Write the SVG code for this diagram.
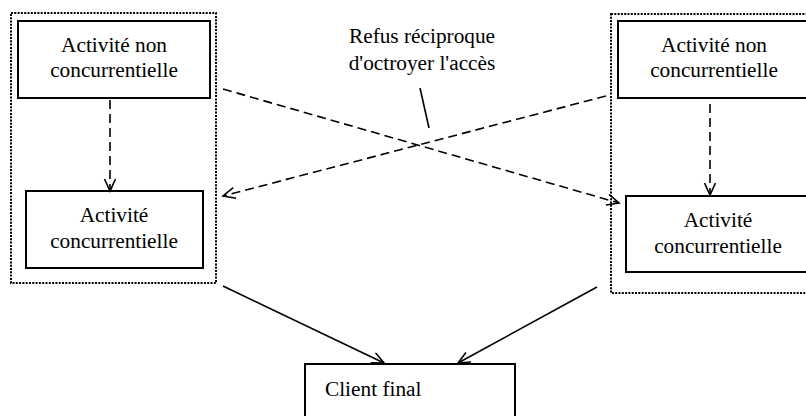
<svg xmlns="http://www.w3.org/2000/svg" width="806" height="416" viewBox="0 0 806 416">
<defs>
<style>
.box{fill:#fff;stroke:#000;stroke-width:2}
.grp{fill:none;stroke:#000;stroke-width:2;stroke-dasharray:2 1.3}
.t{font-family:"Liberation Serif","Times New Roman",serif;font-size:21.3px;fill:#000;text-anchor:middle}
.dash{fill:none;stroke:#000;stroke-width:1.6;stroke-dasharray:9 5}
.solid{fill:none;stroke:#000;stroke-width:1.6}
</style>
<marker id="ah" markerUnits="userSpaceOnUse" markerWidth="16" markerHeight="14" refX="13" refY="6" orient="auto">
<path d="M1,0.5 L13,6 L1,11.5" fill="none" stroke="#000" stroke-width="1.6"/>
</marker>
</defs>
<rect width="806" height="416" fill="#fff"/>
<g id="group-left"><rect class="grp" x="11" y="13" width="205" height="270"/></g>
<g id="group-right"><rect class="grp" x="611" y="14" width="220" height="279"/></g>
<g id="nc-left">
<rect class="box" x="18" y="21" width="192" height="77"/>
<text class="t" x="114" y="52">Activité non</text>
<text class="t" x="114" y="77">concurrentielle</text>
</g>
<g id="c-left">
<rect class="box" x="26" y="191" width="177" height="77"/>
<text class="t" x="114" y="222">Activité</text>
<text class="t" x="114" y="248">concurrentielle</text>
</g>
<g id="nc-right">
<rect class="box" x="618" y="21" width="220" height="77"/>
<text class="t" x="714" y="52">Activité non</text>
<text class="t" x="714" y="77">concurrentielle</text>
</g>
<g id="c-right">
<rect class="box" x="626" y="196" width="220" height="76"/>
<text class="t" x="718" y="227">Activité</text>
<text class="t" x="718" y="253">concurrentielle</text>
</g>
<g id="client">
<rect class="box" x="305" y="364" width="210" height="70"/>
<text class="t" x="325" y="396" style="text-anchor:start">Client final</text>
</g>
<g id="label">
<text class="t" x="422" y="43">Refus réciproque</text>
<text class="t" x="422" y="70">d'octroyer l'accès</text>
</g>
<g id="connectors">
<line class="dash" x1="110" y1="100" x2="110" y2="191" marker-end="url(#ah)"/>
<line class="dash" x1="710" y1="104" x2="710" y2="195" marker-end="url(#ah)"/>
<line class="dash" x1="223" y1="89" x2="619" y2="203" marker-end="url(#ah)"/>
<line class="dash" x1="606" y1="96" x2="223" y2="196" marker-end="url(#ah)"/>
<line class="solid" x1="420" y1="88" x2="429" y2="128"/>
<line class="solid" x1="223" y1="286" x2="384" y2="363" marker-end="url(#ah)"/>
<line class="solid" x1="597" y1="287" x2="458" y2="363" marker-end="url(#ah)"/>
</g>
</svg>
